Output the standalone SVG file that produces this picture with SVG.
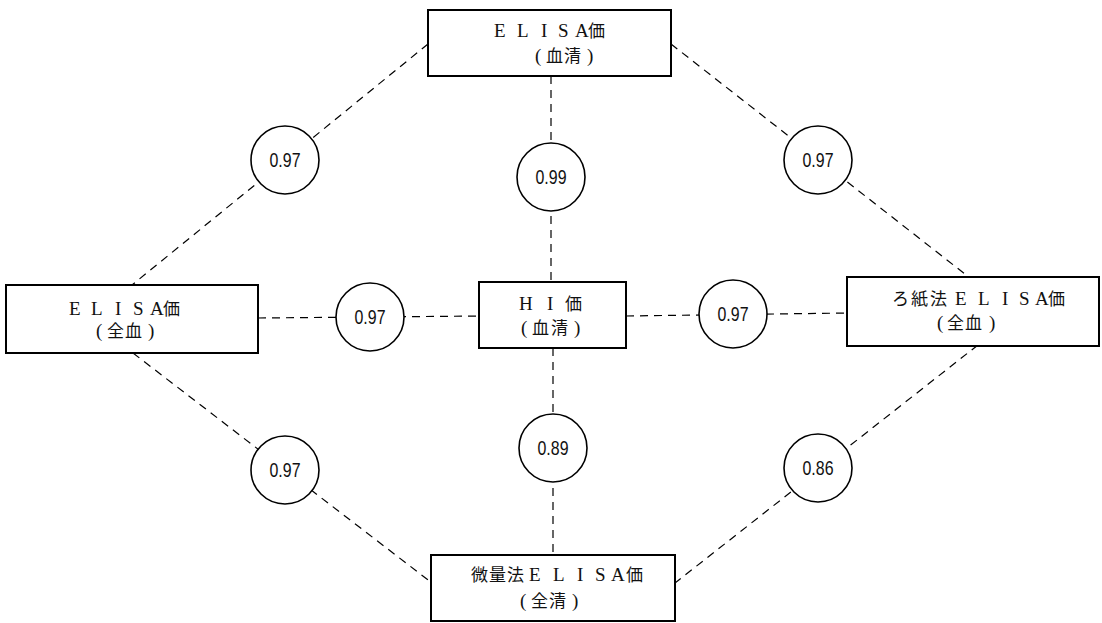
<svg xmlns="http://www.w3.org/2000/svg" width="1102" height="623" viewBox="0 0 1102 623">
  <style>
    .box { fill: #fff; stroke: #000; stroke-width: 2; }
    .circ { fill: #fff; stroke: #000; stroke-width: 1.6; }
    .link { stroke: #000; stroke-width: 1.2; stroke-dasharray: 8 6; fill: none; }
    .lbl { font-family: "Liberation Serif", "Noto Sans CJK JP", serif; font-size: 19px; fill: #111; }
    .cjk { font-family: "Noto Sans CJK JP", serif; font-size: 17px; }
    .num { font-family: "Liberation Sans", "Noto Sans", sans-serif; font-size: 20px; fill: #111; text-anchor: middle; }
  </style>
  <rect width="1102" height="623" fill="#fff"/>

  <!-- correlation connectors -->
  <g id="connectors">
    <line class="link" x1="428" y1="44" x2="132" y2="285"/>
    <line class="link" x1="671" y1="44" x2="970" y2="278"/>
    <line class="link" x1="551" y1="76" x2="551" y2="282"/>
    <line class="link" x1="258" y1="318" x2="479" y2="316"/>
    <line class="link" x1="626" y1="316" x2="847" y2="313"/>
    <line class="link" x1="553" y1="348" x2="553" y2="555"/>
    <line class="link" x1="133" y1="353" x2="432" y2="583"/>
    <line class="link" x1="978" y1="345" x2="675" y2="583"/>
  </g>

  <!-- coefficient circles -->
  <g id="c-tl"><circle class="circ" cx="285" cy="160" r="34"/><text class="num" x="285" y="167" textLength="31" lengthAdjust="spacingAndGlyphs">0.97</text></g>
  <g id="c-tc"><circle class="circ" cx="551" cy="177" r="34"/><text class="num" x="551" y="184" textLength="31" lengthAdjust="spacingAndGlyphs">0.99</text></g>
  <g id="c-tr"><circle class="circ" cx="818" cy="160" r="34"/><text class="num" x="818" y="167" textLength="31" lengthAdjust="spacingAndGlyphs">0.97</text></g>
  <g id="c-ml"><circle class="circ" cx="370" cy="317" r="34"/><text class="num" x="370" y="324" textLength="31" lengthAdjust="spacingAndGlyphs">0.97</text></g>
  <g id="c-mr"><circle class="circ" cx="733" cy="314" r="34"/><text class="num" x="733" y="321" textLength="31" lengthAdjust="spacingAndGlyphs">0.97</text></g>
  <g id="c-bc"><circle class="circ" cx="553" cy="448" r="34"/><text class="num" x="553" y="455" textLength="31" lengthAdjust="spacingAndGlyphs">0.89</text></g>
  <g id="c-bl"><circle class="circ" cx="285" cy="470" r="34"/><text class="num" x="285" y="477" textLength="31" lengthAdjust="spacingAndGlyphs">0.97</text></g>
  <g id="c-br"><circle class="circ" cx="818" cy="468" r="34"/><text class="num" x="818" y="475" textLength="31" lengthAdjust="spacingAndGlyphs">0.86</text></g>

  <!-- measurement nodes: letters are placed one by one for the wide typeset spacing -->
  <g id="n-top">
    <rect class="box" x="428" y="10" width="243" height="66"/>
    <text class="lbl" y="37"><tspan x="494 517 541 558 575">ELISA</tspan><tspan class="cjk" x="588">価</tspan></text>
    <text class="lbl" y="62"><tspan x="535">(</tspan><tspan class="cjk" x="546 564">血清</tspan><tspan x="587">)</tspan></text>
  </g>
  <g id="n-left">
    <rect class="box" x="6" y="285" width="252" height="68"/>
    <text class="lbl" y="315"><tspan x="69 91 115 133 150">ELISA</tspan><tspan class="cjk" x="163">価</tspan></text>
    <text class="lbl" y="337"><tspan x="96">(</tspan><tspan class="cjk" x="107 125">全血</tspan><tspan x="148">)</tspan></text>
  </g>
  <g id="n-hi">
    <rect class="box" x="479" y="282" width="147" height="66"/>
    <text class="lbl" y="310"><tspan x="519 547">HI</tspan><tspan class="cjk" x="565">価</tspan></text>
    <text class="lbl" y="334"><tspan x="521">(</tspan><tspan class="cjk" x="532 551">血清</tspan><tspan x="574">)</tspan></text>
  </g>
  <g id="n-right">
    <rect class="box" x="847" y="277" width="252" height="69"/>
    <text class="lbl" y="305"><tspan class="cjk" x="892 911 930">ろ紙法</tspan><tspan x="955 978 1002 1019 1035">ELISA</tspan><tspan class="cjk" x="1048">価</tspan></text>
    <text class="lbl" y="329"><tspan x="937">(</tspan><tspan class="cjk" x="947 965">全血</tspan><tspan x="989">)</tspan></text>
  </g>
  <g id="n-bottom">
    <rect class="box" x="431" y="555" width="244" height="66"/>
    <text class="lbl" y="581"><tspan class="cjk" x="471 489 507">微量法</tspan><tspan x="529 553 577 595 611">ELISA</tspan><tspan class="cjk" x="626">価</tspan></text>
    <text class="lbl" y="607"><tspan x="520">(</tspan><tspan class="cjk" x="531 549">全清</tspan><tspan x="572">)</tspan></text>
  </g>
</svg>
